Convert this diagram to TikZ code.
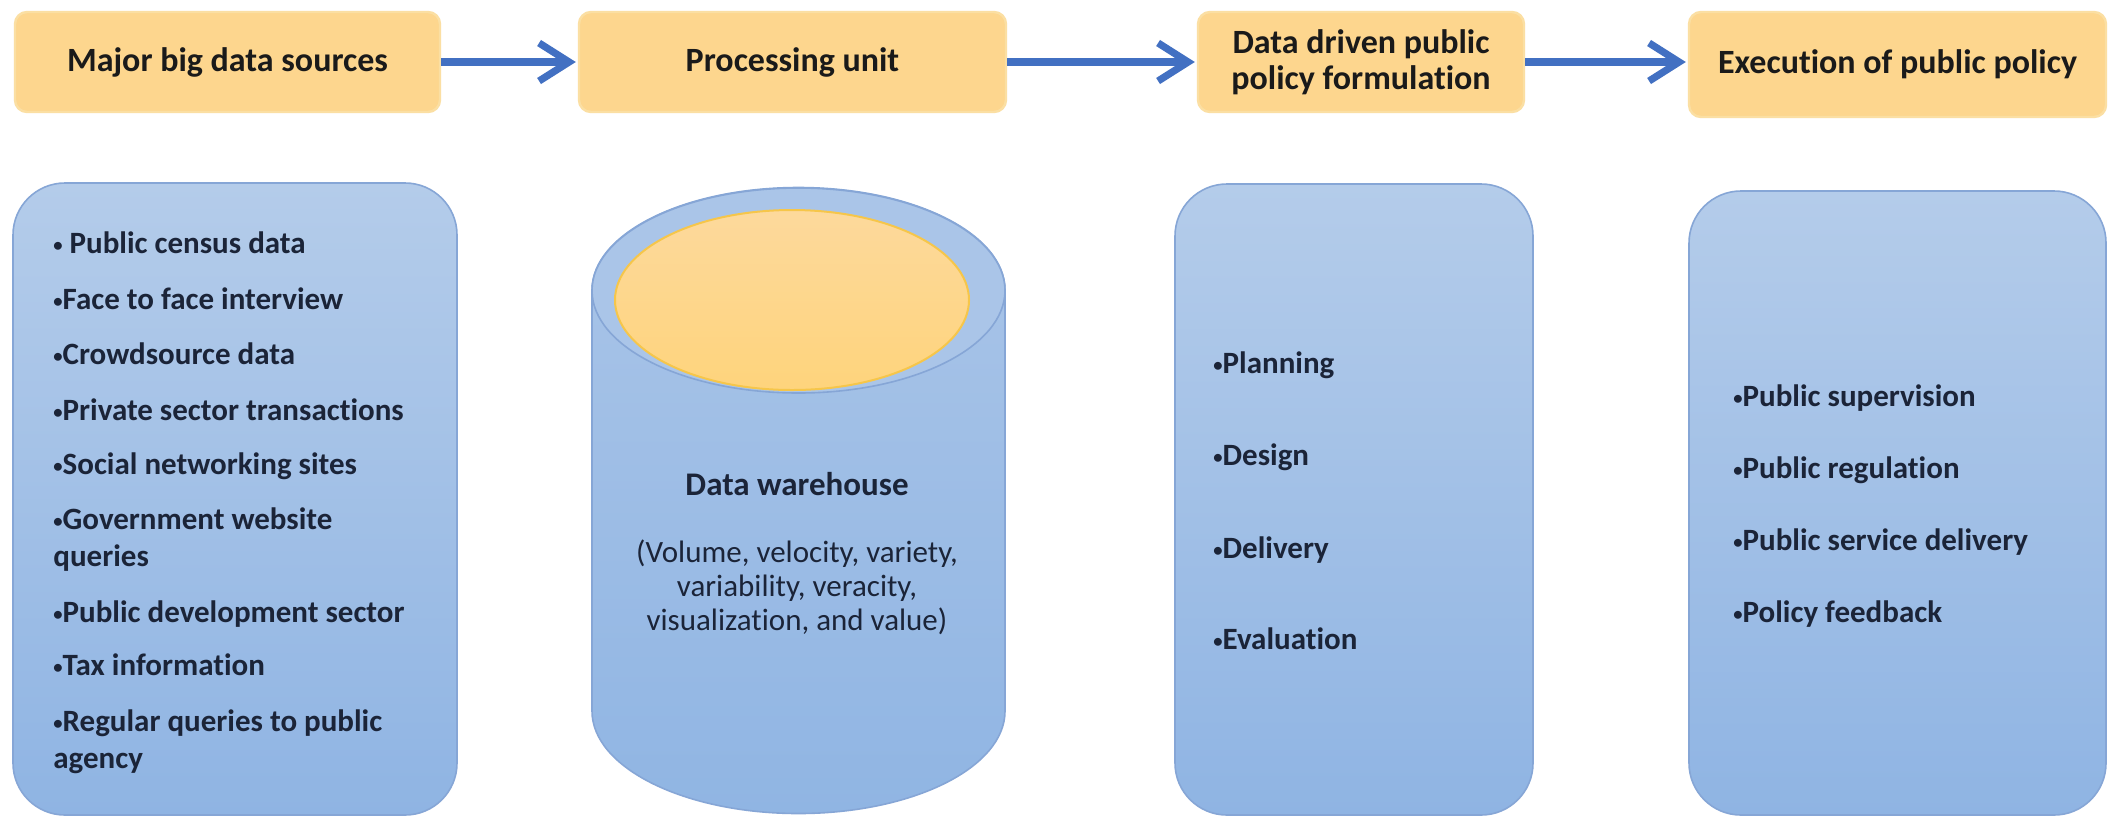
\documentclass[tikz,border=0pt]{standalone}
\usepackage{fontspec}
\setmainfont[Ligatures=NoCommon]{Carlito}
\usepackage{graphicx}
\usetikzlibrary{arrows.meta}
\definecolor{orFill}{HTML}{FDD68E}
\definecolor{orEdge}{HTML}{FBDFA3}
\definecolor{arrowblue}{HTML}{4270C2}
\definecolor{blTop}{HTML}{B4CCEA}
\definecolor{blBot}{HTML}{8FB4E3}
\definecolor{blEdge}{HTML}{86A6D6}
\definecolor{cyTop}{HTML}{AAC5E8}
\definecolor{cyBot}{HTML}{90B5E3}
\definecolor{yelTop}{HTML}{FDD99C}
\definecolor{yelBot}{HTML}{FED47C}
\definecolor{yelEdge}{HTML}{F6C64A}
\definecolor{navy}{HTML}{1B2438}
\definecolor{txt}{HTML}{1A1A1A}
\newcommand\bul{\raisebox{0.06em}{\scalebox{0.6}{•}}}
\begin{document}
\begin{tikzpicture}[x=0.5pt,y=-0.5pt,
  topbox/.style={draw=orEdge, line width=1.2pt, fill=orFill, rounded corners=6pt,
    font=\fontsize{17}{18}\selectfont\bfseries, text=txt, align=center, inner sep=0pt},
  bluebox/.style={draw=blEdge, line width=0.8pt, top color=blTop, bottom color=blBot,
    rounded corners=26pt, inner sep=0pt},
  item/.style={anchor=base west, inner sep=0pt, font=\fontsize{15.5}{18.5}\selectfont\bfseries, text=navy},
  cyltext/.style={anchor=base, inner sep=0pt, font=\fontsize{15.5}{18}\selectfont, text=navy},
  flow/.style={-{Straight Barb[length=15pt,width=19pt]}, line width=3.6pt, draw=arrowblue, shorten >=1pt}
]
\useasboundingbox (0,0) rectangle (2108,816);
\fill[white] (0,0) rectangle (2108,816);

% top boxes
\node[topbox, minimum width=212.5pt, minimum height=50pt] (t1) at (227.5,62) {Major big data sources};
\node[topbox, minimum width=213.5pt, minimum height=50pt] (t2) at (792.5,62) {Processing unit};
\node[topbox, minimum width=163pt, minimum height=50pt] (t3) at (1361,62) {Data driven public\\policy formulation};
\node[topbox, minimum width=208.5pt, minimum height=52.5pt] (t4) at (1897.5,64.5) {Execution of public policy};

\draw[flow] (t1.east) -- (t2.west);
\draw[flow] (t2.east) -- (t3.west);
\draw[flow] (t3.east) -- (t3.east -| t4.west);

% bottom boxes
\node[bluebox, minimum width=222pt, minimum height=316pt] (srcbox) at (235,499) {};
\node[bluebox, minimum width=179pt, minimum height=315.5pt] (polbox) at (1354,499.5) {};
\node[bluebox, minimum width=208.5pt, minimum height=312pt] (exebox) at (1897.5,503) {};

% cylinder
\path[top color=cyTop, bottom color=cyBot, draw=blEdge, line width=0.8pt]
  (592,290) -- (592,711)
  arc[start angle=180, end angle=360, x radius=103.25pt, y radius=51.25pt]
  -- (1005,290)
  arc[start angle=0, end angle=180, x radius=103.25pt, y radius=51.25pt] -- cycle;
\draw[draw=blEdge, line width=0.8pt, fill=cyTop] (798.5,290.5) ellipse [x radius=103.25pt, y radius=51.25pt];
\draw[draw=yelEdge, line width=1pt, top color=yelTop, bottom color=yelBot] (792,300) ellipse [x radius=88.5pt, y radius=45pt];

\node[cyltext, font=\fontsize{16.5}{18}\selectfont\bfseries] (dw) at (797,495) {Data warehouse};
\node[cyltext] (dw1) at (797,562) {(Volume, velocity, variety,};
\node[cyltext] (dw2) at (797,596) {variability, veracity,};
\node[cyltext] (dw3) at (797,630) {visualization, and value)};

% sources list
\node[item] (a1) at (53,253) {\bul{} Public census data};
\node[item] (a2) at (53,309) {\bul Face to face interview};
\node[item] (a3) at (53,364) {\bul Crowdsource data};
\node[item] (a4) at (53,420) {\bul Private sector transactions};
\node[item] (a5) at (53,474) {\bul Social networking sites};
\node[item] (a6) at (53,529) {\bul Government website};
\node[item] (a6b) at (53,566) {queries};
\node[item] (a7) at (53,622) {\bul Public development sector};
\node[item] (a8) at (53,675) {\bul Tax information};
\node[item] (a9) at (53,731) {\bul Regular queries to public};
\node[item] (a9b) at (53,768) {agency};

% formulation list
\node[item] (c1) at (1213,373) {\bul Planning};
\node[item] (c2) at (1213,465) {\bul Design};
\node[item] (c3) at (1213,558) {\bul Delivery};
\node[item] (c4) at (1213,649) {\bul Evaluation};

% execution list
\node[item] (d1) at (1733,406) {\bul Public supervision};
\node[item] (d2) at (1733,478) {\bul Public regulation};
\node[item] (d3) at (1733,550) {\bul Public service delivery};
\node[item] (d4) at (1733,622) {\bul Policy feedback};
\end{tikzpicture}
\end{document}
